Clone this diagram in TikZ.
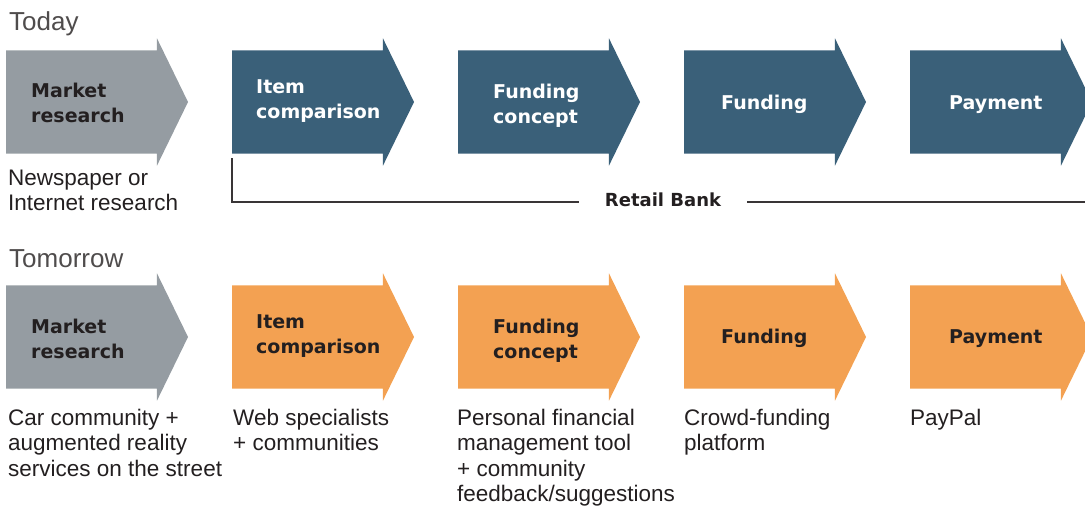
\documentclass[tikz,border=0pt]{standalone}
\usepackage{fontspec}
\setmainfont{Liberation Sans}
\newfontfamily\stagefont{DejaVu Sans}
\usetikzlibrary{shapes.arrows,positioning}
\definecolor{marketgray}{HTML}{959CA2}
\definecolor{bankblue}{HTML}{3A6079}
\definecolor{crowdorange}{HTML}{F3A152}
\definecolor{inkdark}{HTML}{231F20}
\begin{document}
\begin{tikzpicture}[x=1pt, y=-1pt, node distance =226pt, on grid,
  stage/.style={single arrow, single arrow head extend=12pt,
    single arrow tip angle=128, single arrow head indent=0pt,
    minimum width=127pt, minimum height=182pt, inner xsep=0pt,
    inner ysep=51.5pt, outer sep=0pt},
  stagetext/.style={anchor=base west, align=left, inner sep=0pt,
    font=\stagefont\bfseries\fontsize{19}{25}\selectfont},
  desc/.style={anchor=base west, align=left, inner sep=0pt, text=inkdark,
    font=\fontsize{22.5}{25.5}\selectfont},
  heading/.style={anchor=base west, inner sep=0pt, text=inkdark!80,
    font=\fontsize{26}{30}\selectfont},
  bankline/.style={draw=inkdark!90, line width=1.3pt}]
\clip (0,0) rectangle (1085,507);

% today
\node [heading] (today) at (9,30) {Today};
\node [stage, fill=marketgray, anchor=west] (t_1) at (6,102) {};
\node [stage, fill=bankblue] (t_2) [right = of t_1] {};
\node [stage, fill=bankblue] (t_3) [right = of t_2] {};
\node [stage, fill=bankblue] (t_4) [right = of t_3] {};
\node [stage, fill=bankblue] (t_5) [right = of t_4] {};

% base of a two-line label = its last line
\node [stagetext, text=inkdark] (t_1l) at ([shift={(25,20)}]t_1.west) {Market\\research};
\node [stagetext, text=white] (t_2l) at ([shift={(24,16)}]t_2.west) {Item\\comparison};
\node [stagetext, text=white] (t_3l) at ([shift={(35,21)}]t_3.west) {Funding\\concept};
\node [stagetext, text=white] (t_4l) at ([shift={(37,7)}]t_4.west) {Funding};
\node [stagetext, text=white] (t_5l) at ([shift={(39,7)}]t_5.west) {Payment};

\node [desc] (t_1d) at ([shift={(2,108.5)}]t_1.west) {Newspaper or\\Internet research};

% retail bank bracket
\coordinate (rb_top) at (232,158);
\coordinate (rb_corner) at (232,202);
\coordinate (rb_end) at (1085,202);
\node [inner xsep=26pt, inner ysep=0pt, anchor=base, text=inkdark,
  font=\stagefont\bfseries\fontsize{18}{22}\selectfont] (rb) at (663,206) {Retail Bank};
\draw [bankline] (rb_top) |- (rb_corner) -- (rb_corner -| rb.west);
\draw [bankline] (rb_corner -| rb.east) -- (rb_end);

% tomorrow
\node [heading] (tomorrow) at (9,267) {Tomorrow};
\node [stage, fill=marketgray, anchor=west] (b_1) at (6,337) {};
\node [stage, fill=crowdorange] (b_2) [right = of b_1] {};
\node [stage, fill=crowdorange] (b_3) [right = of b_2] {};
\node [stage, fill=crowdorange] (b_4) [right = of b_3] {};
\node [stage, fill=crowdorange] (b_5) [right = of b_4] {};

\node [stagetext, text=inkdark] (b_1l) at ([shift={(25,21)}]b_1.west) {Market\\research};
\node [stagetext, text=inkdark] (b_2l) at ([shift={(24,16)}]b_2.west) {Item\\comparison};
\node [stagetext, text=inkdark] (b_3l) at ([shift={(35,21)}]b_3.west) {Funding\\concept};
\node [stagetext, text=inkdark] (b_4l) at ([shift={(37,6)}]b_4.west) {Funding};
\node [stagetext, text=inkdark] (b_5l) at ([shift={(39,6)}]b_5.west) {Payment};

\node [desc] (b_1d) at ([shift={(2,139)}]b_1.west) {Car community +\\augmented reality\\services on the street};
\node [desc] (b_2d) at ([shift={(1,113.5)}]b_2.west) {Web specialists\\+ communities};
\node [desc] (b_3d) at ([shift={(-1,164.5)}]b_3.west) {Personal financial\\management tool\\+ community\\feedback/suggestions};
\node [desc] (b_4d) at ([shift={(0,113.5)}]b_4.west) {Crowd-funding\\platform};
\node [desc] (b_5d) at ([shift={(0,88)}]b_5.west) {PayPal};

\end{tikzpicture}
\end{document}
